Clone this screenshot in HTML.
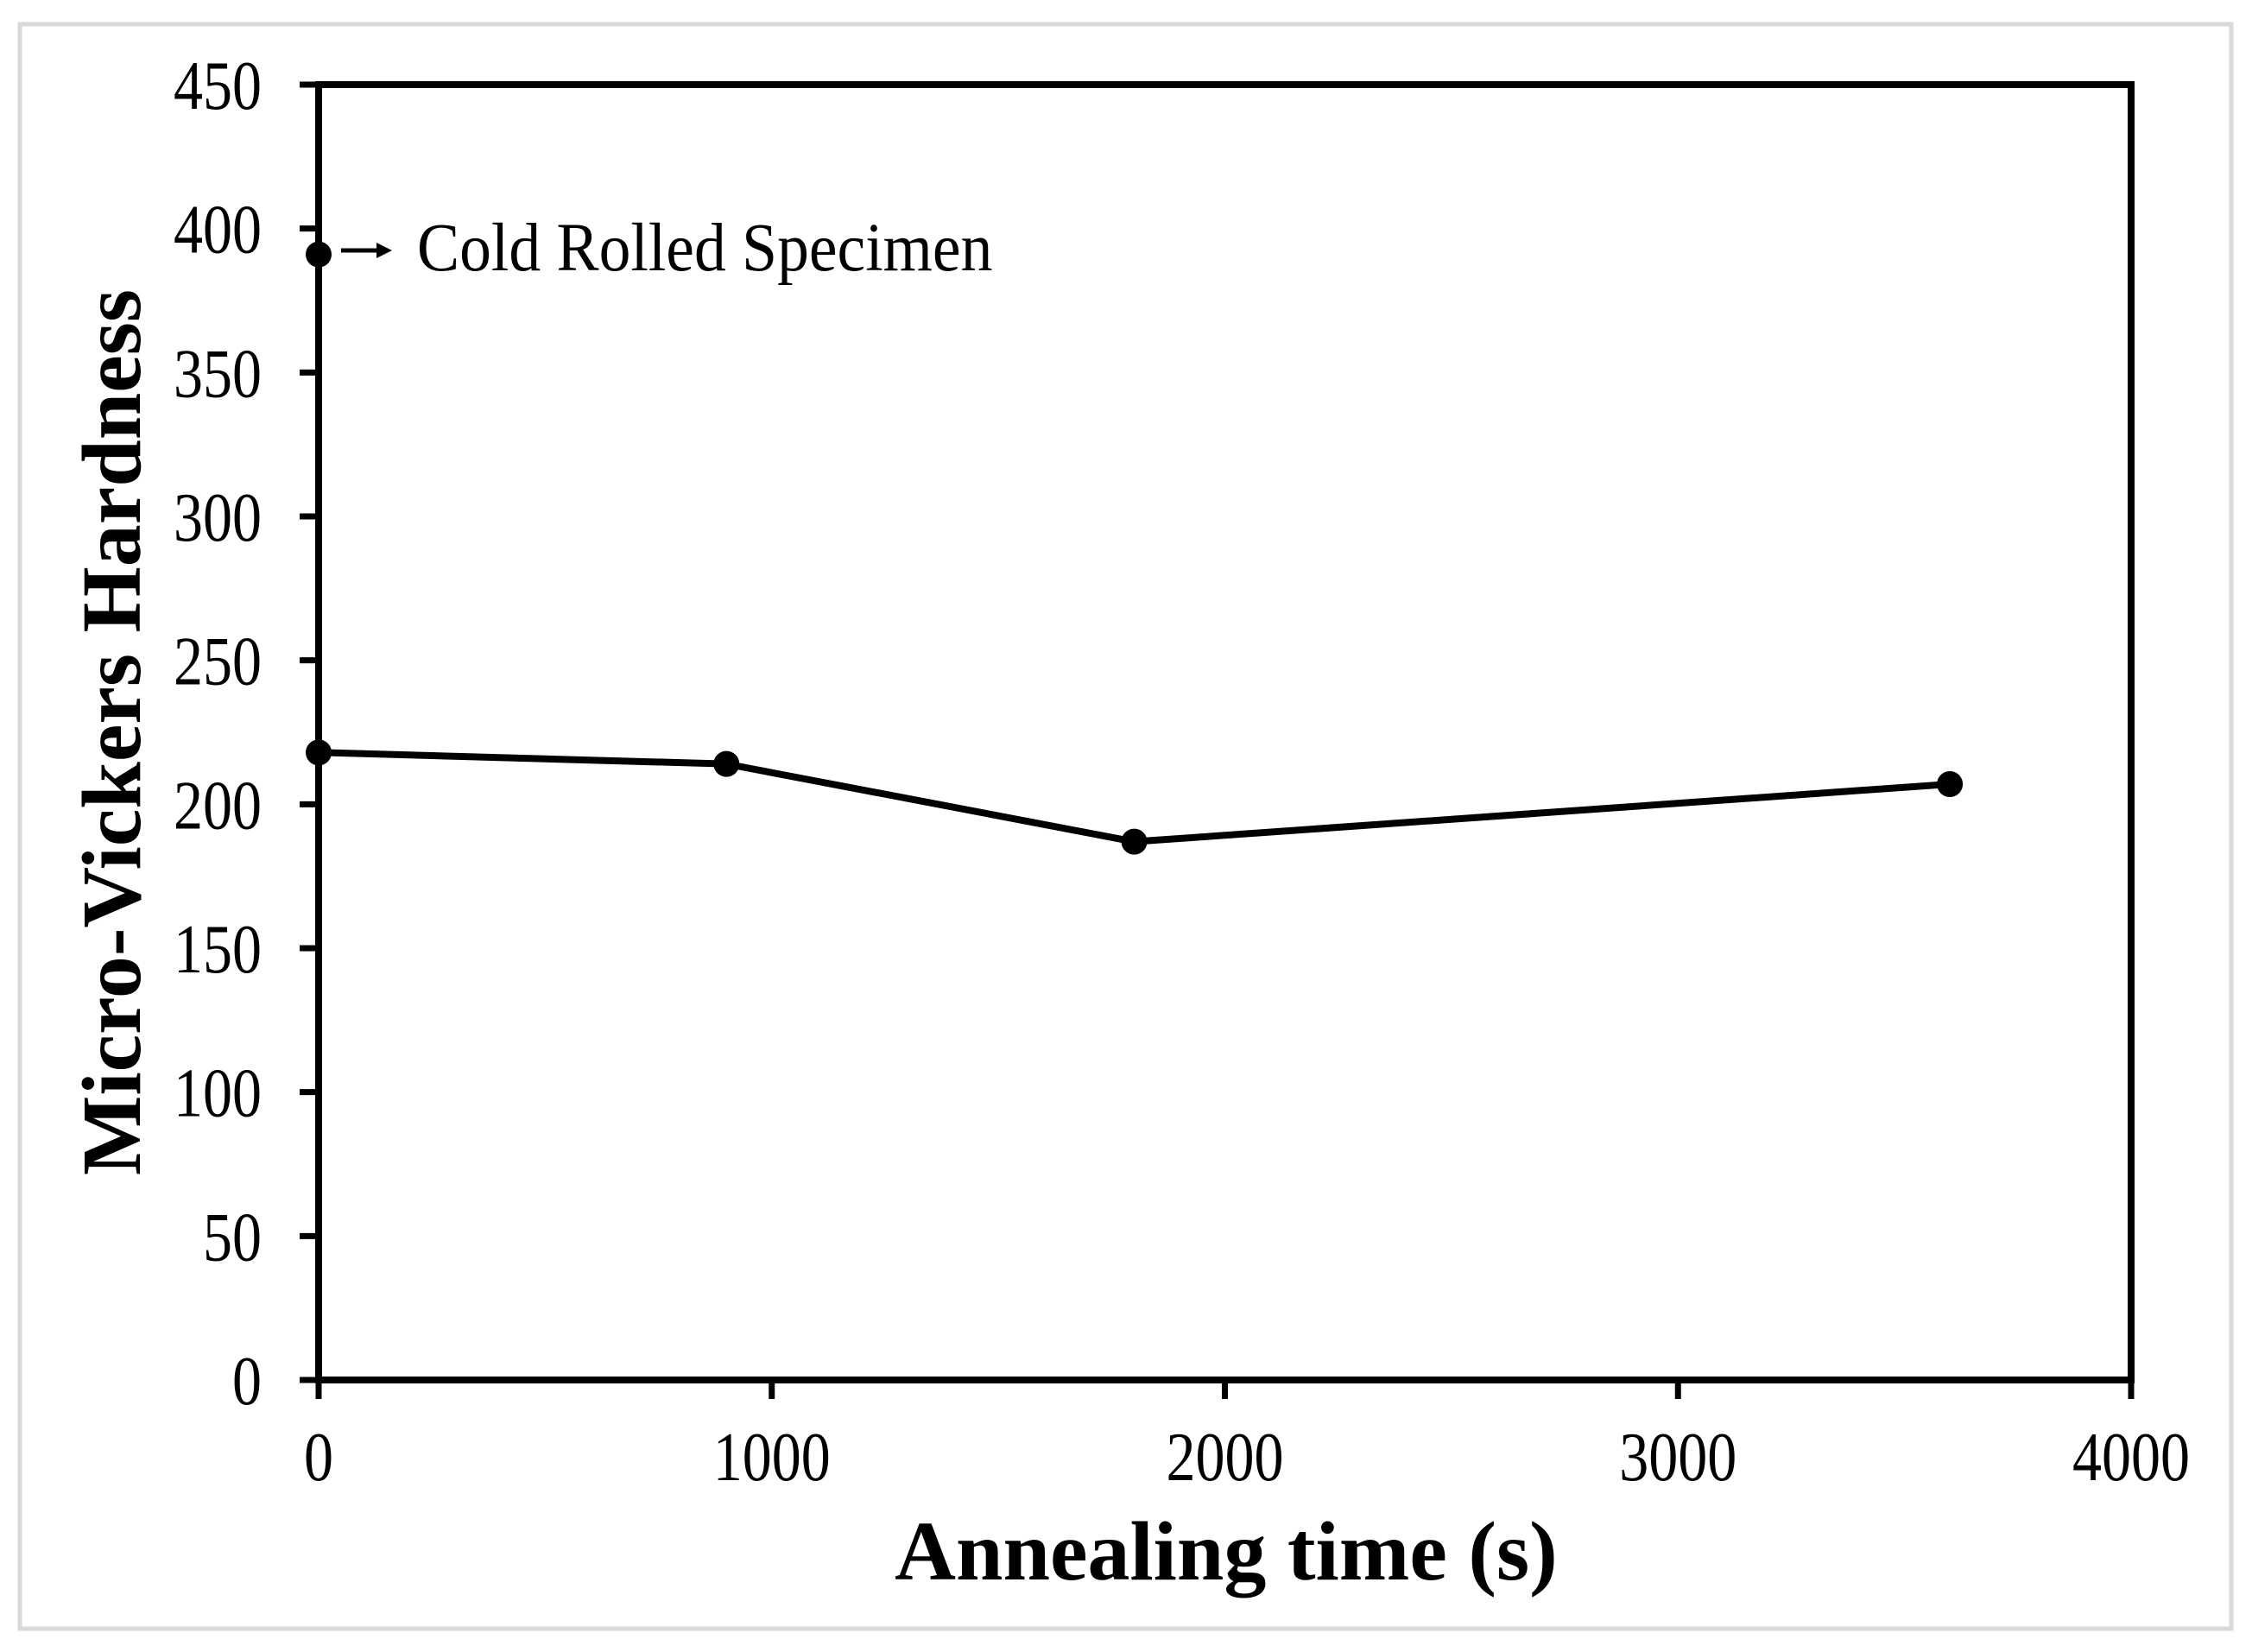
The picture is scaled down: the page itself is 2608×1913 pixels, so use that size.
<!DOCTYPE html>
<html><head><meta charset="utf-8"><style>
html,body{margin:0;padding:0;background:#fff;}
svg{display:block;}
</style></head><body>
<svg id="chart" width="2608" height="1913" viewBox="0 0 2608 1913" xmlns="http://www.w3.org/2000/svg">
<rect x="23" y="28" width="2561" height="1858" fill="#fff" stroke="#d9d9d9" stroke-width="5"/>
<g id="axes"></g>
<g id="marks"></g>
<line x1="395" y1="290" x2="440" y2="290" stroke="#000" stroke-width="5"/>
<polygon points="454,290 436,281 436,299" fill="#000"/>
<text transform="translate(483,313) scale(0.92,1)" font-family="Liberation Serif, serif" font-size="80" fill="#000">Cold Rolled Specimen</text>
<text x="1420" y="1829" text-anchor="middle" font-family="Liberation Serif, serif" font-weight="bold" font-size="98" fill="#000">Annealing time (s)</text>
<text transform="translate(162,848) rotate(-90)" text-anchor="middle" font-family="Liberation Serif, serif" font-weight="bold" font-size="98" fill="#000">Micro-Vickers Hardness</text>
</svg>
<script>
const xTicks = [0, 1000, 2000, 3000, 4000];
const yTicks = [0, 50, 100, 150, 200, 250, 300, 350, 400, 450];
const times = [0, 900, 1800, 3600];
const hardness = [218, 214, 187, 207];
const coldTime = [0];
const coldHardness = [391];

const L = 369, R = 2468, T = 98, B = 1598;
const xMin = 0, xMax = 4000, yMin = 0, yMax = 450;
function sx(v){ return L + (v - xMin) / (xMax - xMin) * (R - L); }
function sy(v){ return B - (v - yMin) / (yMax - yMin) * (B - T); }
const NS = 'http://www.w3.org/2000/svg';
function mk(tag, attrs, parent){
  const e = document.createElementNS(NS, tag);
  for (const k in attrs) e.setAttribute(k, attrs[k]);
  parent.appendChild(e);
  return e;
}
const axes = document.getElementById('axes');
const marks = document.getElementById('marks');

const box = mk('rect', {x:L, y:T, width:R-L, height:B-T, fill:'none', stroke:'#000', 'stroke-width':8}, axes);



yTicks.forEach(v => {
  const y = sy(v);
  const t = mk('line', {x1:L-22, y1:y, x2:L, y2:y, stroke:'#000', 'stroke-width':7}, axes);
  
  
  const lb = mk('text', {transform:'translate(303,' + (y+28) + ') scale(0.85,1)', 'text-anchor':'end', 'font-family':'Liberation Serif, serif', 'font-size':80, fill:'#000'}, axes);
  lb.textContent = String(v);
  
  
});
xTicks.forEach(v => {
  const x = sx(v);
  const t = mk('line', {x1:x, y1:B, x2:x, y2:B+22, stroke:'#000', 'stroke-width':7}, axes);
  
  
  const lb = mk('text', {transform:'translate(' + x + ',1714) scale(0.85,1)', 'text-anchor':'middle', 'font-family':'Liberation Serif, serif', 'font-size':80, fill:'#000'}, axes);
  lb.textContent = String(v);
  
  
});

const pts = times.map((t, i) => sx(t) + ',' + sy(hardness[i])).join(' ');
const line = mk('polyline', {points:pts, fill:'none', stroke:'#000', 'stroke-width':8, 'stroke-linejoin':'round'}, marks);


times.forEach((t, i) => {
  const c = mk('circle', {cx:sx(t), cy:sy(hardness[i]), r:15, fill:'#000'}, marks);
  
  
});
coldTime.forEach((t, i) => {
  const c = mk('circle', {cx:sx(t), cy:sy(coldHardness[i]), r:15, fill:'#000'}, marks);
  
  
});
</script>
</body></html>
